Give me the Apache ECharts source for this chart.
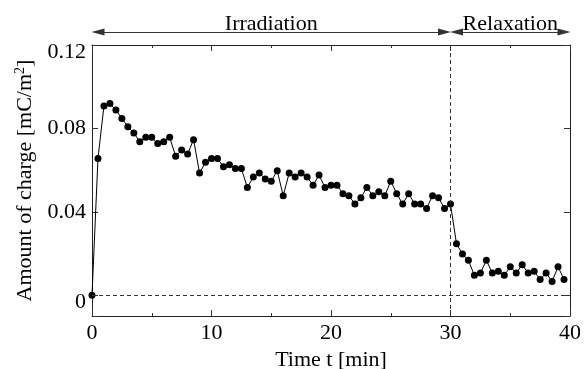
<!DOCTYPE html>
<html lang="en" style="height: 100%">
<head>
  <meta charset="utf-8">
</head>
<body style="height: 100%; margin: 0">
  <div id="container" style="width: 588px; height: 369px"></div>

  <script type="text/javascript" src="https://fastly.jsdelivr.net/npm/echarts@6/dist/echarts.min.js"></script>

  <script type="text/javascript">
    // time [min], one reading every half minute
    var times = [
      0, 0.5, 1, 1.5, 2, 2.5, 3, 3.5, 4, 4.5, 5, 5.5, 6, 6.5, 7, 7.5, 8, 8.5, 9, 9.5,
      10, 10.5, 11, 11.5, 12, 12.5, 13, 13.5, 14, 14.5, 15, 15.5, 16, 16.5, 17, 17.5, 18, 18.5, 19, 19.5,
      20, 20.5, 21, 21.5, 22, 22.5, 23, 23.5, 24, 24.5, 25, 25.5, 26, 26.5, 27, 27.5, 28, 28.5, 29, 29.5,
      30, 30.5, 31, 31.5, 32, 32.5, 33, 33.5, 34, 34.5, 35, 35.5, 36, 36.5, 37, 37.5, 38, 38.5, 39, 39.5
    ];
    // amount of charge [mC/m2]
    var charge = [
      0, 0.0656, 0.0907, 0.0919, 0.0888, 0.0848, 0.0808, 0.0778, 0.0736, 0.0757,
      0.0757, 0.0727, 0.0736, 0.0757, 0.0666, 0.0696, 0.0677, 0.0746, 0.0586, 0.0637,
      0.0656, 0.0656, 0.0616, 0.0626, 0.0607, 0.0607, 0.0517, 0.0567, 0.0586, 0.0557,
      0.0546, 0.0597, 0.0477, 0.0586, 0.0567, 0.0586, 0.0567, 0.0527, 0.0576, 0.0517,
      0.0527, 0.0527, 0.0487, 0.0477, 0.0437, 0.0467, 0.0517, 0.0477, 0.0496, 0.0477,
      0.0547, 0.0487, 0.0437, 0.0487, 0.0437, 0.0437, 0.0416, 0.0477, 0.0467, 0.0416,
      0.0437, 0.0247, 0.0197, 0.0167, 0.0095, 0.0106, 0.0167, 0.0106, 0.0115, 0.0095,
      0.0136, 0.0106, 0.0146, 0.0106, 0.0115, 0.0075, 0.0106, 0.0066, 0.0136, 0.0075
    ];
    // phases shown by arrows above the plot: [name, start, end]
    var phases = [
      ['Irradiation', 0, 30],
      ['Relaxation', 30, 40]
    ];
    var arrowLevel = 0.1262;
    var arrowInset = 0.5; // arrowheads are centred on the line ends, pull them in so the tips land on the phase limits
    var yTicks = [0, 0.04, 0.08, 0.12];

    var font = 'Liberation Serif';
    var dom = document.getElementById('container');
    var myChart = echarts.init(dom, null, { renderer: 'canvas' });

    function xAxisCfg(pos, labels) {
      return {
        type: 'value',
        position: pos,
        min: 0,
        max: 40,
        interval: 10,
        name: labels ? 'Time t [min]' : '',
        nameLocation: 'middle',
        nameGap: 27,
        nameTextStyle: { fontFamily: font, fontSize: 22, color: '#000' },
        axisLine: { onZero: false, lineStyle: { color: '#222', width: 1 } },
        axisTick: { inside: true, length: 6, lineStyle: { color: '#333' } },
        minorTick: { show: true, splitNumber: 2, length: 3, lineStyle: { color: '#333' } },
        axisLabel: { show: labels, margin: 6, fontFamily: font, fontSize: 22, color: '#000' },
        splitLine: { show: false }
      };
    }

    function yAxisCfg(pos, labels) {
      return {
        type: 'value',
        position: pos,
        min: -0.01,
        max: 0.12,
        minInterval: 0.04,
        maxInterval: 0.04,
        name: labels ? 'Amount of charge [mC/m{sup|2}]' : '',
        nameLocation: 'middle',
        nameRotate: 90,
        nameGap: 46,
        nameTextStyle: {
          fontFamily: font, fontSize: 22, color: '#000',
          rich: {
            sup: { fontFamily: font, fontSize: 14, color: '#000', padding: [0, 0, 10, 0] }
          }
        },
        axisLine: { onZero: false, lineStyle: { color: '#222', width: 1 } },
        axisTick: { inside: true, length: 6, lineStyle: { color: '#333' } },
        axisLabel: {
          show: labels,
          margin: 6,
          fontFamily: font,
          fontSize: 22,
          color: '#000',
          formatter: function (v) {
            var hit = yTicks.find(function (t) { return Math.abs(t - v) < 1e-6; });
            if (hit === undefined) return '';
            var s = String(hit);
            if (hit === 0 || hit === 0.12) return '{edge|' + s + '}';
            return s;
          },
          rich: {
            edge: { fontFamily: font, fontSize: 22, color: '#000', padding: [14, 0, 0, 0] }
          }
        },
        splitLine: { show: false }
      };
    }

    var option = {
      animation: false,
      grid: { left: 92, right: 18, top: 45, bottom: 53, outerBoundsMode: 'none' },
      xAxis: [xAxisCfg('bottom', true), xAxisCfg('top', false)],
      yAxis: [yAxisCfg('left', true), yAxisCfg('right', false)],
      series: [
        {
          type: 'line',
          data: times.map(function (t, i) { return [t, charge[i]]; }),
          symbol: 'circle',
          symbolSize: 7,
          itemStyle: { color: '#000' },
          lineStyle: { color: '#000', width: 1 },
          markLine: {
            silent: true,
            symbol: 'none',
            label: { show: false },
            lineStyle: { type: [4, 3], color: '#333', width: 1 },
            data: [{ yAxis: 0 }, { xAxis: 30 }]
          }
        },
        {
          type: 'lines',
          coordinateSystem: 'cartesian2d',
          clip: false,
          silent: true,
          symbol: ['triangle', 'triangle'],
          symbolSize: [[7, 13], [7, 13]],
          lineStyle: { color: '#333', width: 1, opacity: 1 },
          label: {
            show: true,
            position: 'insideMiddleTop',
            distance: -3,
            formatter: '{b}',
            fontFamily: font,
            fontSize: 22,
            color: '#000'
          },
          data: phases.map(function (p) {
            return {
              name: p[0],
              coords: [[p[1] + arrowInset, arrowLevel], [p[2] - arrowInset, arrowLevel]]
            };
          })
        }
      ]
    };

    myChart.setOption(option);
    window.addEventListener('resize', myChart.resize);
  </script>
</body>
</html>
